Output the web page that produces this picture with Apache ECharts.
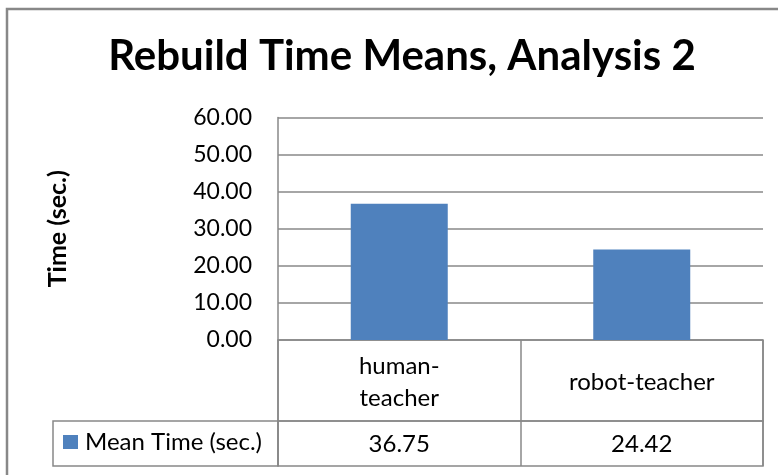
<!DOCTYPE html>
<html>
<head>
<meta charset="utf-8">
<script src="https://cdn.jsdelivr.net/npm/echarts@6/dist/echarts.min.js"></script>
<style>
  html, body { margin: 0; padding: 0; background: #fff; }
  #chart { width: 778px; height: 475px; }
</style>
</head>
<body>
<div id="chart"></div>
<script>
// data
const categories = ['human-teacher', 'robot-teacher'];
const categoryLabels = ['human-\nteacher', 'robot-teacher'];
const meanTime = [36.75, 24.42];
const seriesName = 'Mean Time (sec.)';
const yTicks = [0, 10, 20, 30, 40, 50, 60];

const FONT = 'Lato, "Open Sans", sans-serif';
const GRID_LINE = '#888888';
const BAR_COLOR = '#4F81BD';

const chart = echarts.init(document.getElementById('chart'));

const option = {
  backgroundColor: '#ffffff',
  textStyle: { fontFamily: FONT, color: '#000' },
  animation: false,
  title: {
    text: 'Rebuild Time Means, Analysis 2',
    left: 402,
    top: 35,
    padding: 0,
    textAlign: 'center',
    textStyle: { fontFamily: FONT, fontSize: 42, fontWeight: 'bold', color: '#000' }
  },
  legend: {
    left: 63,
    top: 430,
    padding: 0,
    icon: 'rect',
    itemWidth: 15,
    itemHeight: 14,
    selectedMode: false,
    textStyle: { fontFamily: FONT, fontSize: 24, color: '#000', padding: [0, 0, 0, 2] },
    data: [seriesName]
  },
  grid: [
    // plot area
    { left: 278, right: 15, top: 117.5, height: 222.5 },
    // table: category row
    { left: 278, right: 15, top: 340, height: 81, show: true, borderColor: GRID_LINE, borderWidth: 1.5, backgroundColor: 'transparent' },
    // table: value row
    { left: 278, right: 15, top: 421, height: 45, show: true, borderColor: GRID_LINE, borderWidth: 1.5, backgroundColor: 'transparent' }
  ],
  xAxis: [
    {
      gridIndex: 0, type: 'category', data: categories,
      axisLine: { show: false }, axisTick: { show: false }, axisLabel: { show: false }
    },
    {
      gridIndex: 1, type: 'category', data: categoryLabels,
      axisLine: { show: false }, axisTick: { show: false },
      splitLine: { show: true, lineStyle: { color: GRID_LINE, width: 1.5 } },
      axisLabel: { fontSize: 24, color: '#000', fontFamily: FONT, verticalAlign: 'middle', margin: -39, lineHeight: 32 }
    },
    {
      gridIndex: 2, type: 'category', data: meanTime.map(v => v.toFixed(2)),
      axisLine: { show: false }, axisTick: { show: false },
      splitLine: { show: true, lineStyle: { color: GRID_LINE, width: 1.5 } },
      axisLabel: { fontSize: 24, color: '#000', fontFamily: FONT, verticalAlign: 'middle', margin: -21.5 }
    }
  ],
  yAxis: [
    {
      gridIndex: 0, type: 'value',
      min: yTicks[0], max: yTicks[yTicks.length - 1], interval: 10,
      name: 'Time (sec.)',
      nameLocation: 'middle',
      nameGap: 208,
      nameTextStyle: { fontFamily: FONT, fontSize: 25, fontWeight: 'bold', color: '#000' },
      axisLine: { show: true, lineStyle: { color: GRID_LINE, width: 1.5 } },
      axisTick: { show: false },
      axisLabel: { fontSize: 23, color: '#000', fontFamily: FONT, margin: 26, formatter: v => v.toFixed(2) },
      splitLine: { show: true, lineStyle: { color: GRID_LINE, width: 1.5 } }
    },
    { gridIndex: 1, type: 'value', show: false },
    { gridIndex: 2, type: 'value', show: false }
  ],
  series: [
    {
      name: seriesName,
      type: 'bar',
      xAxisIndex: 0,
      yAxisIndex: 0,
      barWidth: '40%',
      itemStyle: { color: BAR_COLOR },
      data: meanTime
    }
  ],
  graphic: [
    // outer chart frame (right and bottom edges run off the picture)
    {
      type: 'rect', silent: true,
      shape: { x: 7, y: 9, width: 820, height: 520 },
      style: { fill: 'none', stroke: GRID_LINE, lineWidth: 2.5 }
    },
    // legend key cell of the data table
    {
      type: 'rect', silent: true,
      shape: { x: 53, y: 421, width: 225, height: 45 },
      style: { fill: 'none', stroke: GRID_LINE, lineWidth: 1.5 }
    }
  ]
};

chart.setOption(option);
</script>
</body>
</html>
